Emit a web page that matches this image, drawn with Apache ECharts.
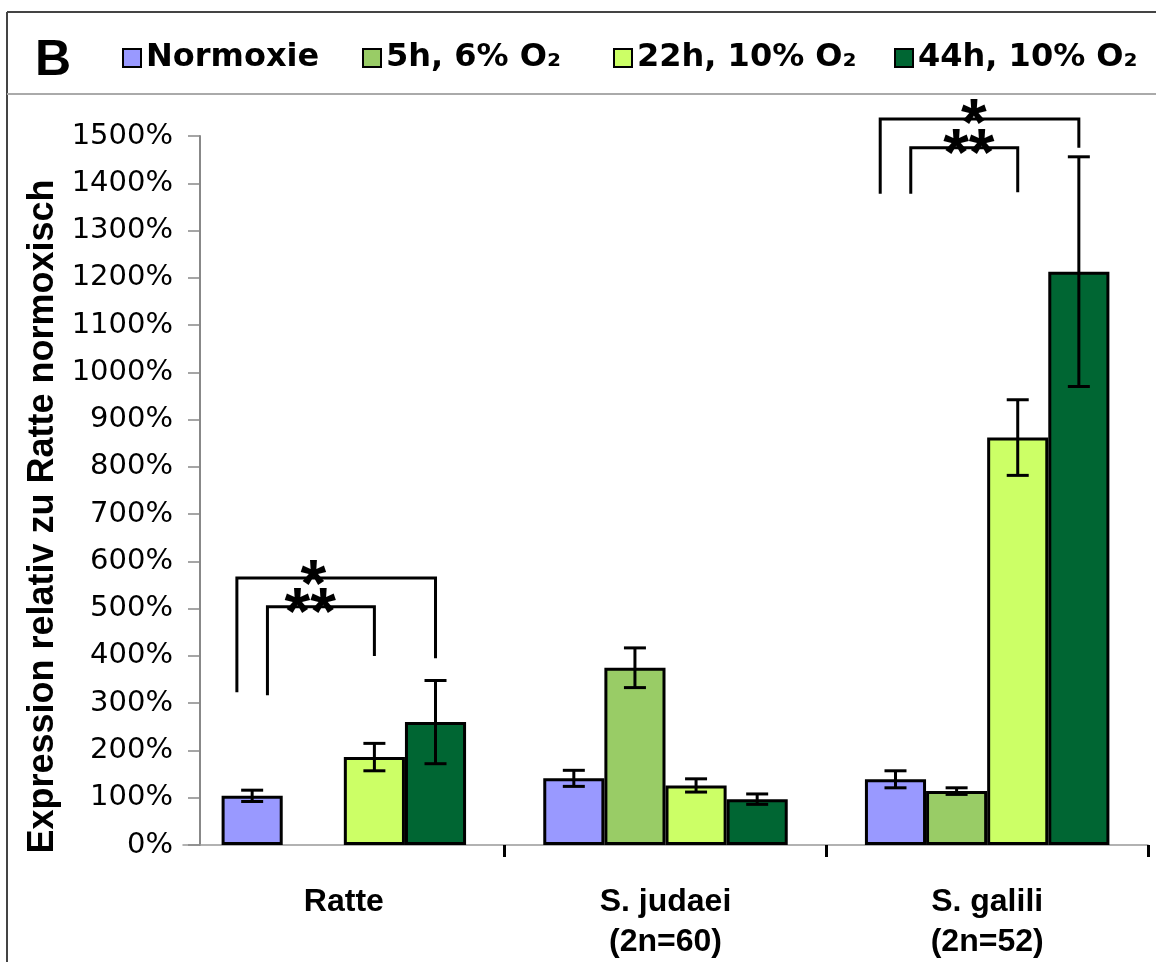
<!DOCTYPE html>
<html>
<head>
<meta charset="utf-8">
<script src="https://cdn.jsdelivr.net/npm/echarts@6/dist/echarts.min.js"></script>
<style>
html,body{margin:0;padding:0;background:#fff;}
#chart{width:1156px;height:962px;}
</style>
</head>
<body>
<div id="chart"></div>
<script>
// ---- data ----
const categories = ['Ratte', 'S. judaei\n(2n=60)', 'S. galili\n(2n=52)'];
const seriesNames = ['Normoxie', '5h, 6% O\u2082', '22h, 10% O\u2082', '44h, 10% O\u2082'];
const normoxie = [104, 141, 139];
const h5 = [null, 375, 114];
const h22 = [186, 126, 862];
const h44 = [260, 97, 1213];
const errNormoxie = [12, 17, 18];
const errH5 = [null, 42, 7];
const errH22 = [29, 14, 80];
const errH44 = [88, 11, 243];
const yMin = 0, yMax = 1500, yStep = 100;
const yAxisTitle = 'Expression relativ zu Ratte normoxisch';
const panelLetter = 'B';
// significance brackets (category index, positions in bar-slot units, values in %)
const bracketCat = [0, 0, 2, 2];
const bracketLeftSlot = [0.25, 0.75, 0.25, 0.75];
const bracketRightSlot = [3.5, 2.5, 3.5, 2.5];
const bracketTop = [565, 504, 1536, 1475];
const bracketLeftEnd = [323, 317, 1378, 1378];
const bracketRightEnd = [395, 400, 1475, 1381];
const bracketLabel = ['*', '**', '*', '**'];
const bracketLabelSlot = [1.5, 1.45, 1.78, 1.7];
const bracketLabelY = [581, 522, 1557, 1494];

// ---- build ----
const colors = ['#9999FF', '#99CC66', '#CCFF66', '#006633'];
const values = [normoxie, h5, h22, h44];
const errors = [errNormoxie, errH5, errH22, errH44];
const CAT_GAP = 0.24;
const NB = 4;

const errData = [];
values.forEach((arr, s) => {
  arr.forEach((v, c) => {
    if (v == null || errors[s][c] == null) return;
    errData.push([c, v - errors[s][c], v + errors[s][c], s]);
  });
});
const bracketData = bracketCat.map((c, i) => [c, bracketTop[i], bracketLeftEnd[i], bracketRightEnd[i],
  bracketLeftSlot[i], bracketRightSlot[i], bracketLabelSlot[i], bracketLabelY[i], i]);

function slotGeom(api, cat) {
  const band = api.size([1, 0])[0];
  const barW = band * (1 - CAT_GAP) / NB;
  const cx = api.coord([cat, 0])[0];
  return { start: cx - barW * NB / 2, barW: barW };
}

const barSeries = seriesNames.map((n, s) => ({
  name: n, type: 'bar', data: values[s],
  barGap: '0%', barCategoryGap: (CAT_GAP * 100) + '%',
  itemStyle: { color: colors[s], borderColor: '#000', borderWidth: 3 },
  z: 2
}));

const STAR_SIZE = 66;
const option = {
  animation: false,
  backgroundColor: '#fff',
  grid: { left: 183, right: 8, top: 136, bottom: 117, containLabel: false },
  legend: seriesNames.map((n, i) => ({
    data: [n], left: [122, 362, 613, 894][i], top: 42, padding: 0,
    itemWidth: 18, itemHeight: 18, icon: 'rect',
    itemStyle: { borderColor: '#000', borderWidth: 2 },
    textStyle: { fontFamily: 'DejaVu Sans', fontWeight: 'bold', fontSize: 32, color: '#000' },
    selectedMode: false
  })),
  xAxis: {
    type: 'category', data: categories, boundaryGap: true,
    axisLine: { show: true, lineStyle: { color: '#999', width: 1.5 } },
    axisTick: { show: true, length: 12, interval: function (i) { return i !== 0; },
      lineStyle: { color: '#000', width: 3 } },
    axisLabel: { interval: 0, fontFamily: 'Liberation Sans', fontWeight: 'bold', fontSize: 32,
      lineHeight: 40, color: '#000', margin: 37 }
  },
  yAxis: {
    type: 'value', min: yMin, max: yMax, interval: yStep, offset: -17,
    name: yAxisTitle, nameLocation: 'middle', nameGap: 129, nameRotate: 90,
    nameTextStyle: { fontFamily: 'Liberation Sans', fontWeight: 'bold', fontSize: 36, color: '#000',
      padding: [0, 52, 0, 0] },
    axisLine: { show: true, lineStyle: { color: '#888', width: 2 } },
    axisTick: { show: true, length: 12, lineStyle: { color: '#888', width: 1.5 } },
    splitLine: { show: false },
    axisLabel: { formatter: function (v) { return v + '%'; }, fontFamily: 'DejaVu Sans', fontSize: 29,
      color: '#000', margin: 27 }
  },
  graphic: [
    { type: 'line', shape: { x1: 7, y1: 12, x2: 1156, y2: 12 }, style: { stroke: '#444', lineWidth: 2 } },
    { type: 'line', shape: { x1: 7, y1: 12, x2: 7, y2: 962 }, style: { stroke: '#444', lineWidth: 2 } },
    { type: 'line', shape: { x1: 7, y1: 94, x2: 1156, y2: 94 }, style: { stroke: '#aaa', lineWidth: 2 } },
    { type: 'text', x: 35, y: 61, style: { text: panelLetter, font: 'bold 50px "Liberation Sans"', fill: '#000',
      textAlign: 'left', textVerticalAlign: 'middle' } }
  ],
  series: barSeries.concat([
    {
      type: 'custom', name: 'errors', data: errData, z: 5, clip: false,
      encode: { x: 0, y: [1, 2] },
      renderItem: function (params, api) {
        const cat = api.value(0), s = api.value(3);
        const g = slotGeom(api, cat);
        const x = g.start + (s + 0.5) * g.barW;
        const yl = api.coord([cat, api.value(1)])[1];
        const yh = api.coord([cat, api.value(2)])[1];
        const cw = 11;
        const st = { stroke: '#000', lineWidth: 3 };
        return { type: 'group', children: [
          { type: 'line', shape: { x1: x, y1: yl, x2: x, y2: yh }, style: st },
          { type: 'line', shape: { x1: x - cw, y1: yh, x2: x + cw, y2: yh }, style: st },
          { type: 'line', shape: { x1: x - cw, y1: yl, x2: x + cw, y2: yl }, style: st }
        ] };
      }
    },
    {
      type: 'custom', name: 'brackets', data: bracketData, z: 6, clip: false,
      encode: { x: 0, y: 1 },
      renderItem: function (params, api) {
        const cat = api.value(0);
        const g = slotGeom(api, cat);
        const xl = g.start + api.value(4) * g.barW;
        const xr = g.start + api.value(5) * g.barW;
        const yt = api.coord([cat, api.value(1)])[1];
        const yle = api.coord([cat, api.value(2)])[1];
        const yre = api.coord([cat, api.value(3)])[1];
        const lx = g.start + api.value(6) * g.barW;
        const ly = api.coord([cat, api.value(7)])[1];
        const idx = api.value(8);
        return { type: 'group', children: [
          { type: 'polyline', shape: { points: [[xl, yle], [xl, yt], [xr, yt], [xr, yre]] },
            style: { stroke: '#000', lineWidth: 3, fill: null } },
          { type: 'text', x: lx, y: ly + 0.27 * STAR_SIZE,
            style: { text: bracketLabel[idx], font: 'bold ' + STAR_SIZE + 'px "Liberation Sans"', fill: '#000',
              textAlign: 'center', textVerticalAlign: 'middle' } }
        ] };
      }
    }
  ])
};
const chart = echarts.init(document.getElementById('chart'), null, { renderer: 'canvas' });
chart.setOption(option);
</script>
</body>
</html>
